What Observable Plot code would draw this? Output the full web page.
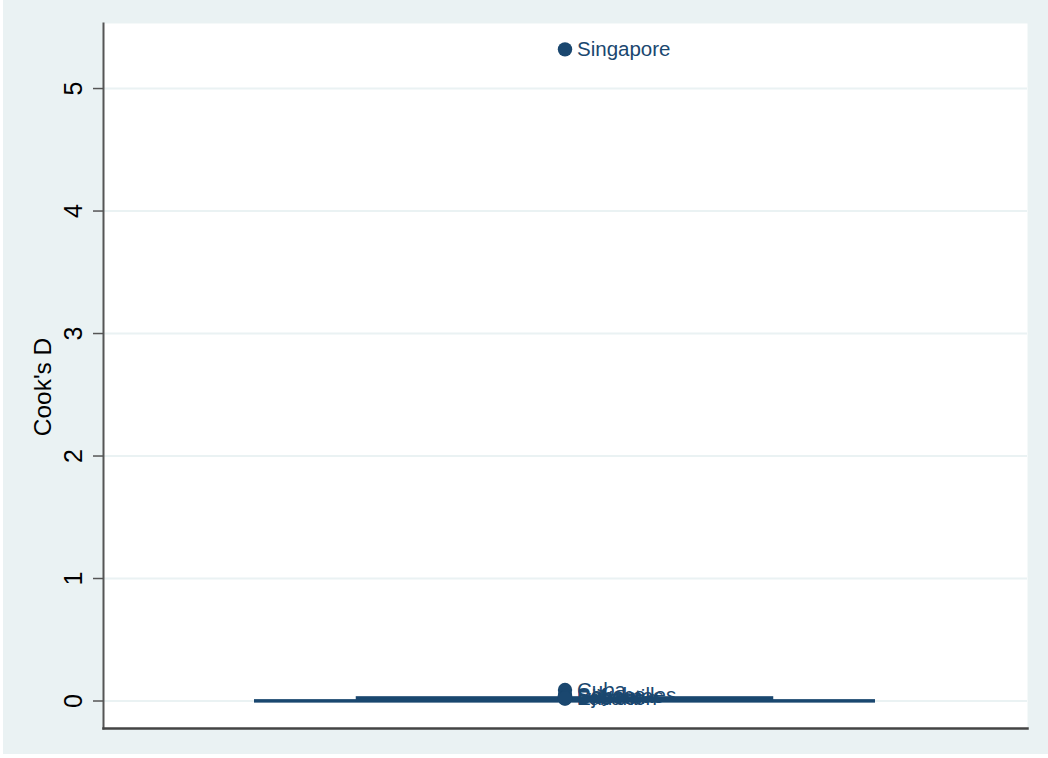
<!DOCTYPE html>
<html><head><meta charset="utf-8">
<script src="https://cdn.jsdelivr.net/npm/d3@7"></script>
<script src="https://cdn.jsdelivr.net/npm/@observablehq/plot@0.6"></script>
<style>
html,body{margin:0;padding:0;background:#fff;}
#chart{position:absolute;left:3px;top:0;width:1045px;height:754px;background:#eaf2f3;}
</style></head><body><div id="chart"></div>
<script>
// ---- data ----
const variable = ["Cook's D"];
const statNames = ["lowerAdjacent", "q1", "median", "q3", "upperAdjacent"];
const statValues = [0.0, 0.0, 0.006, 0.025, 0.002];
const outlierNames = ["Singapore", "Cuba", "Seychelles", "Bahamas", "Djibouti", "Lebanon", "Eritrea"];
const outlierValues = [5.32, 0.09, 0.045, 0.035, 0.028, 0.022, 0.02];
const yTicks = [0, 1, 2, 3, 4, 5];
const yTitle = "Cook's D";

// ---- build tables ----
const stat = Object.fromEntries(statNames.map((n, i) => [n, statValues[i]]));
const boxRow = [{v: variable[0], ...stat}];
const outliers = outlierNames.map((n, i) => ({v: variable[0], name: n, value: outlierValues[i]}));

const navy = "#1a476f";
const font = "'Liberation Sans', Arial, Helvetica, sans-serif";

const chart = Plot.plot({
  width: 1045,
  height: 754,
  marginLeft: 100,
  marginRight: 21,
  marginTop: 23,
  marginBottom: 26,
  style: {background: "transparent", fontFamily: font, overflow: "visible"},
  x: {domain: variable, padding: 0.1955, axis: null},
  y: {domain: [-0.2245, 5.531], label: null},
  marks: [
    Plot.frame({fill: "white", stroke: null}),
    Plot.gridY(yTicks, {stroke: "#eaf2f3", strokeOpacity: 1, strokeWidth: 2}),
    Plot.axisY({ticks: yTicks, tickSize: 10, tickFormat: () => "", stroke: "#555", strokeWidth: 1.5}),
    Plot.text(yTicks, {y: d => d, text: d => String(d), frameAnchor: "left", textAnchor: "middle", lineAnchor: "middle", dx: -30, rotate: -90, fontSize: 25, fill: "#000"}),
    Plot.text([yTitle], {text: d => d, frameAnchor: "left", textAnchor: "middle", lineAnchor: "middle", dx: -60, dy: 11, rotate: -90, fontSize: 24.5, fill: "#000"}),
    Plot.frame({anchor: "left", stroke: "#555", strokeWidth: 2}),
    Plot.frame({anchor: "bottom", stroke: "#444", strokeWidth: 2.5}),
    Plot.tickY(boxRow, {x: "v", y: "lowerAdjacent", stroke: navy, strokeWidth: 3}),
    Plot.tickY(boxRow, {x: "v", y: "upperAdjacent", stroke: navy, strokeWidth: 3}),
    Plot.barY(boxRow, {x: "v", y1: "q1", y2: "q3", fill: navy, stroke: navy, strokeWidth: 2.5, insetLeft: 103, insetRight: 103}),
    Plot.dot(outliers, {x: "v", y: "value", r: 7.2, fill: navy, stroke: null}),
    Plot.text(outliers, {x: "v", y: "value", text: "name", dx: 12, textAnchor: "start", fontSize: 20.5, fill: navy})
  ]
});
document.getElementById("chart").appendChild(chart);
</script></body></html>
